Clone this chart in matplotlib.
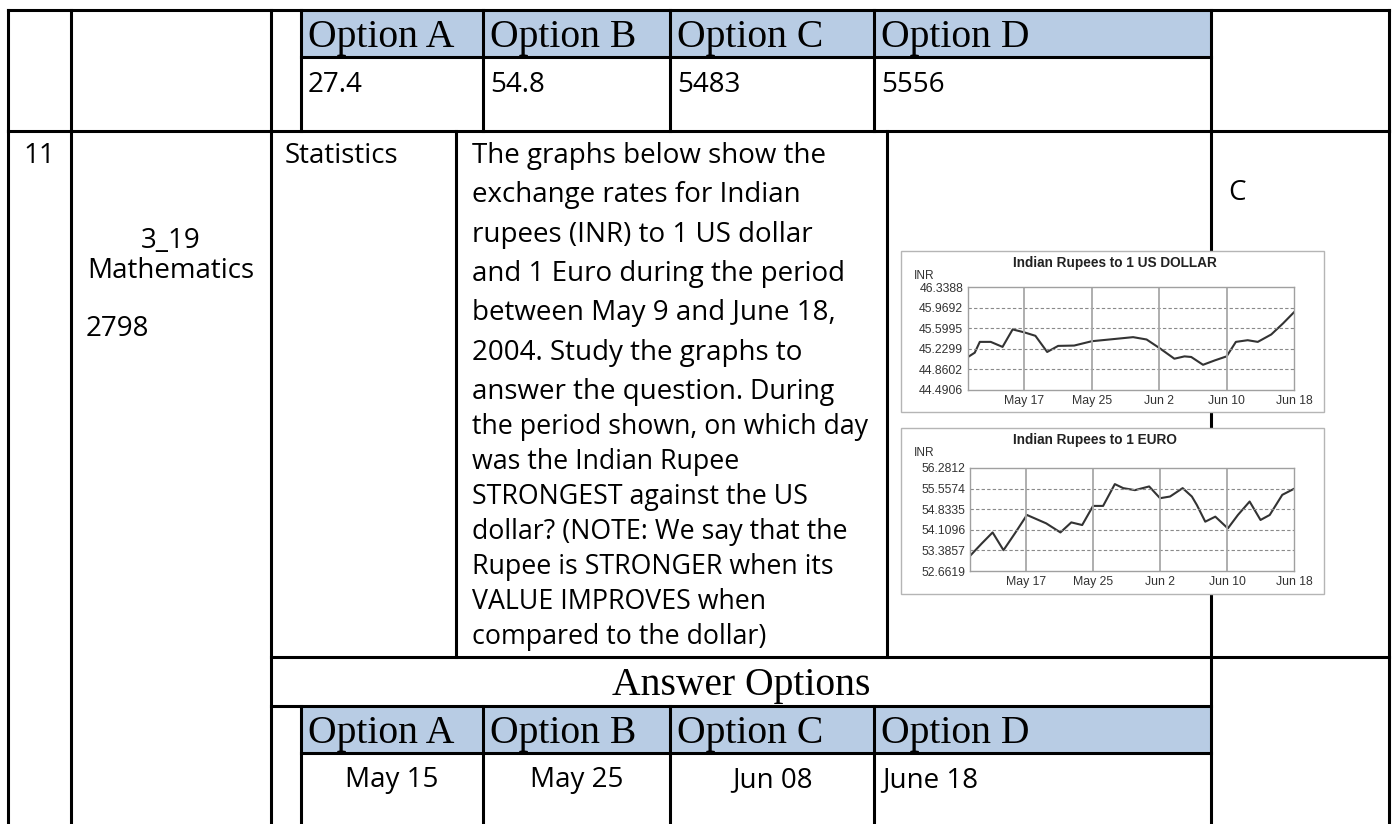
import matplotlib
matplotlib.use("Agg")
import matplotlib.pyplot as plt
from matplotlib.patches import Rectangle

W, H = 1393, 824
DPI = 100

# ---------------- data ----------------
option_names = ["Option A", "Option B", "Option C", "Option D"]
top_values = ["27.4", "54.8", "5483", "5556"]
answer_values = ["May 15", "May 25", "Jun 08", "June 18"]

question_big = ["The graphs below show the",
                "exchange rates for Indian",
                "rupees (INR) to 1 US dollar",
                "and 1 Euro during the period",
                "between May 9 and June 18,",
                "2004. Study the graphs to",
                "answer the question."]
question_small = ["the period shown, on which day",
                  "was the Indian Rupee",
                  "STRONGEST against the US",
                  "dollar? (NOTE: We say that the",
                  "Rupee is STRONGER when its",
                  "VALUE IMPROVES when",
                  "compared to the dollar)"]

# day number: May 1 = 1, Jun 1 = 32
usd_days = [10.3, 11.1, 11.7, 13.0, 14.4, 15.6, 17.0, 18.3, 19.7, 21.0, 22.9, 25.0,
            27.3, 29.9, 31.5, 33.0, 34.8, 36.0, 36.8, 38.2, 39.6, 41.0, 42.1, 43.5,
            44.7, 46.3, 47.7, 49.0]
usd_rate = [45.083, 45.16, 45.354, 45.354, 45.264, 45.578, 45.524, 45.463, 45.173,
            45.282, 45.288, 45.366, 45.40, 45.439, 45.397, 45.246, 45.052, 45.094,
            45.083, 44.943, 45.022, 45.094, 45.354, 45.384, 45.354, 45.487, 45.686,
            45.886]
eur_days = [10.3, 11.7, 13.0, 14.3, 15.7, 17.1, 19.4, 21.1, 22.4, 23.7, 25.0, 26.2,
            27.6, 28.6, 30.0, 31.7, 33.0, 34.2, 35.7, 36.8, 37.4, 38.4, 39.6, 41.1,
            42.3, 43.7, 45.0, 46.1, 47.6, 49.0]
eur_rate = [53.192, 53.628, 54.017, 53.393, 54.0, 54.631, 54.336, 54.017, 54.37,
            54.277, 54.949, 54.949, 55.715, 55.574, 55.503, 55.633, 55.22, 55.279,
            55.574, 55.279, 54.98, 54.395, 54.572, 54.159, 54.631, 55.103, 54.455,
            54.631, 55.338, 55.55]

usd_ticks = [44.4906, 44.8602, 45.2299, 45.5995, 45.9692, 46.3388]
eur_ticks = [52.6619, 53.3857, 54.1096, 54.8335, 55.5574, 56.2812]
date_ticks = [17, 25, 33, 41, 49]
date_labels = ["May 17", "May 25", "Jun 2", "Jun 10", "Jun 18"]

# ---------------- layout (pixels) ----------------
X_L, X_NUM, X_ID, X_IN, X_STAT, X_Q, X_ANS, X_R = 8, 71, 271, 301, 456, 887, 1211, 1389
opt_cols = [301, 483, 670, 874, 1211]
Y_TOP, Y_HDR1, Y_ROW2, Y_ROW3, Y_HDR2, Y_HDR2B = 10, 57, 131, 657, 706, 753

BLUE = "#B8CCE4"
SANS = "Open Sans"
SERIF = "Liberation Serif"
LW = 2.2

fig = plt.figure(figsize=(W / DPI, H / DPI), dpi=DPI)
ax = fig.add_axes([0, 0, 1, 1])
ax.set_xlim(0, W)
ax.set_ylim(H, 0)
ax.axis("off")


def hline(y, x0, x1):
    ax.plot([x0, x1], [y, y], color="black", lw=LW, solid_capstyle="projecting", zorder=2)


def vline(x, y0, y1):
    ax.plot([x, x], [y0, y1], color="black", lw=LW, solid_capstyle="projecting", zorder=2)


# blue header bands
ax.add_patch(Rectangle((opt_cols[0], Y_TOP), opt_cols[-1] - opt_cols[0], Y_HDR1 - Y_TOP,
                       facecolor=BLUE, edgecolor="none", zorder=1))
ax.add_patch(Rectangle((opt_cols[0], Y_HDR2), opt_cols[-1] - opt_cols[0], Y_HDR2B - Y_HDR2,
                       facecolor=BLUE, edgecolor="none", zorder=1))

# row 1
hline(Y_TOP, X_L, X_R)
hline(Y_HDR1, opt_cols[0], opt_cols[-1])
hline(Y_ROW2, X_L, X_R)
for x in [X_L, X_NUM, X_ID] + opt_cols + [X_R]:
    vline(x, Y_TOP, Y_ROW2)

# row 2 + rest
for x in [X_L, X_NUM, X_ID, X_ANS, X_R]:
    vline(x, Y_ROW2, H + 5)
vline(X_STAT, Y_ROW2, Y_ROW3)
vline(X_Q, Y_ROW2, Y_ROW3)
hline(Y_ROW3, X_ID, X_R)
hline(Y_HDR2, X_ID, X_ANS)
hline(Y_HDR2B, opt_cols[0], opt_cols[-1])
for x in opt_cols[:-1]:
    vline(x, Y_HDR2, H + 5)

# top options
for i, name in enumerate(option_names):
    ax.text(opt_cols[i] + 7, 47, name, fontsize=28.5, family=SERIF, va="baseline", ha="left")
    ax.text(opt_cols[i] + 7, 92, top_values[i], fontsize=20, family=SANS, va="baseline", ha="left")

# row 2 texts
ax.text(23, 163, "11", fontsize=20, family=SANS, va="baseline")
ax.text(171, 248, "3_19", fontsize=20, family=SANS, va="baseline", ha="center")
ax.text(171, 278, "Mathematics", fontsize=20, family=SANS, va="baseline", ha="center")
ax.text(86, 336, "2798", fontsize=20, family=SANS, va="baseline")
ax.text(285, 163, "Statistics", fontsize=20, family=SANS, va="baseline")
ax.text(1228, 200, "C", fontsize=20, family=SANS, va="baseline")

qx = 472
last = None
for i, line in enumerate(question_big):
    last = ax.text(qx, 163 + 39.3 * i, line, fontsize=20, family=SANS, va="baseline")
ax.annotate(" During", xy=(1, 0), xycoords=last, fontsize=19.3, family=SANS,
            va="bottom", ha="left")
y0 = 163 + 39.3 * (len(question_big) - 1)
for i, line in enumerate(question_small):
    ax.text(qx, y0 + 35 * (i + 1), line, fontsize=19.3, family=SANS, va="baseline")

# answer options
ax.text((X_ID + X_ANS) / 2, 695, "Answer Options", fontsize=28.5, family=SERIF,
        va="baseline", ha="center")
for i, name in enumerate(option_names):
    ax.text(opt_cols[i] + 7, 743, name, fontsize=28.5, family=SERIF, va="baseline", ha="left")
for i, val in enumerate(answer_values):
    if i < 3:
        ax.text((opt_cols[i] + opt_cols[i + 1]) / 2, 787, val, fontsize=20, family=SANS,
                va="baseline", ha="center")
    else:
        ax.text(opt_cols[i] + 8, 787, val, fontsize=20, family=SANS, va="baseline")


# ---------------- the two embedded charts ----------------
def px_axes(x0, y0, x1, y1):
    return fig.add_axes([x0 / W, 1 - y1 / H, (x1 - x0) / W, (y1 - y0) / H])


def draw_chart(box, plot, title, days, rate, ticks):
    bx0, by0, bx1, by1 = box
    ax.add_patch(Rectangle((bx0, by0), bx1 - bx0, by1 - by0, facecolor="white",
                           edgecolor="#b5b5b5", lw=1.0, zorder=5))
    ax.text(1013, by0 + 12, title, fontsize=9.8, family="Liberation Sans", weight="bold",
            color="#222222", va="center", ha="left", zorder=6)
    ax.text(914, by0 + 25, "INR", fontsize=8.6, family="Liberation Sans", color="#333333",
            va="center", ha="left", zorder=6)
    c = px_axes(*plot)
    c.plot(days, rate, color="#333333", lw=1.5)
    c.set_xlim(min(days), max(days))
    c.set_ylim(ticks[0], ticks[-1])
    c.set_yticks(ticks)
    c.set_yticklabels([f"{t:.4f}" for t in ticks])
    c.set_xticks(date_ticks)
    c.set_xticklabels(date_labels)
    for t in ticks[1:-1]:
        c.axhline(t, color="#8a8a8a", lw=0.8, ls=(0, (3, 2)))
    for d in date_ticks[:-1]:
        c.axvline(d, color="#a8a8a8", lw=1.3)
    c.tick_params(length=0, labelsize=8.8, colors="#333333", pad=3.5)
    for lab in c.get_xticklabels() + c.get_yticklabels():
        lab.set_family("Liberation Sans")
    for s in c.spines.values():
        s.set_color("#a0a0a0")
        s.set_linewidth(1.0)


draw_chart((901, 251, 1324, 412), (968, 287, 1294, 390),
           "Indian Rupees to 1 US DOLLAR", usd_days, usd_rate, usd_ticks)
draw_chart((901, 428, 1324, 594), (970, 468, 1294, 571),
           "Indian Rupees to 1 EURO", eur_days, eur_rate, eur_ticks)

fig.savefig("out.png", dpi=DPI)
